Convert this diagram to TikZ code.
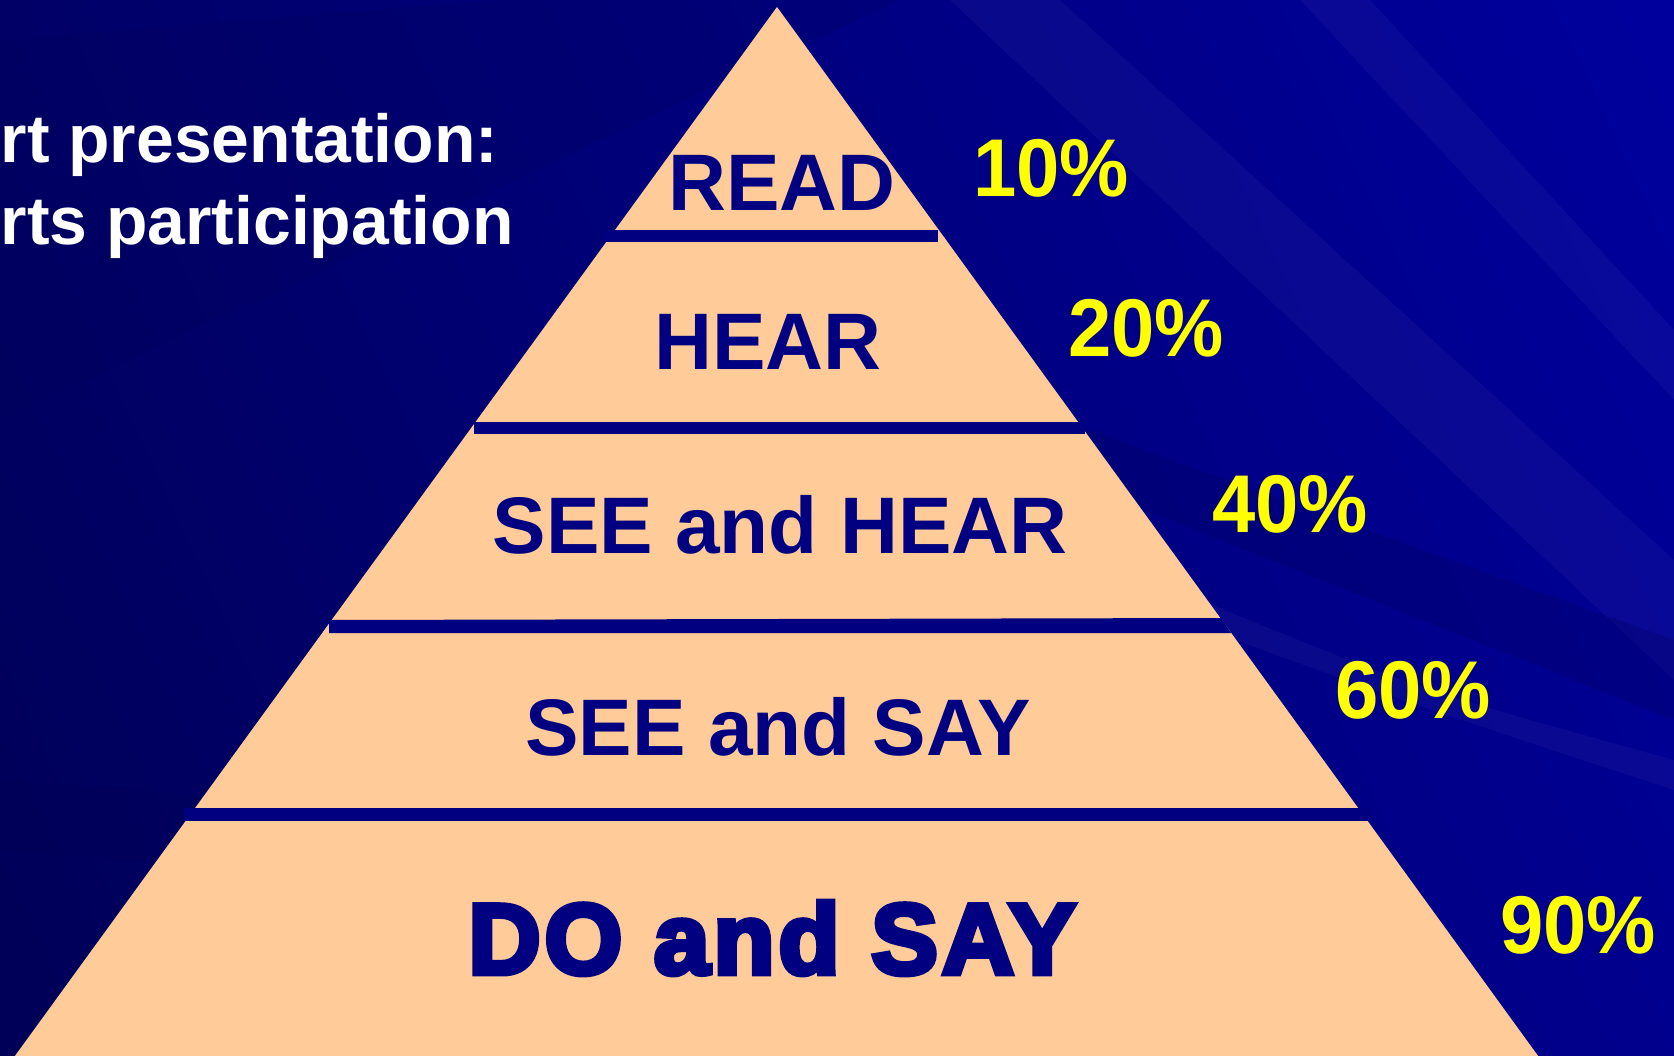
\documentclass[tikz,border=0pt]{standalone}
\usepackage{fontspec}
\setmainfont{Liberation Sans}
\font\heavyfont="Liberation Sans Bold:embolden=5.5;letterspace=4" at 28.4pt
\usepackage{xcolor}
\definecolor{bgdark}{HTML}{000058}
\definecolor{bglight}{HTML}{00009C}
\definecolor{peachc}{HTML}{FFCC99}
\definecolor{inkc}{HTML}{000080}
\definecolor{pctc}{HTML}{FFFF00}
\tikzset{
  layer/.style={font=\bfseries\fontsize{22.8}{22.8}\selectfont, text=inkc},
  toplayer/.style={font=\heavyfont, text=inkc},
  pct/.style={font=\bfseries\fontsize{23.3}{23.3}\selectfont, text=pctc, xscale=0.95},
  note/.style={font=\bfseries\fontsize{19.3}{19.3}\selectfont, text=white, anchor=base west, inner sep=0pt},
  bar/.style={fill=inkc},
  streak/.style={fill=white, fill opacity=0.035},
}

\begin{document}
\begin{tikzpicture}[x=0.01cm, y=-0.01cm]
\useasboundingbox (0,0) rectangle (1674,1055);
\begin{scope}
\clip (0,0) rectangle (1674,1055);
% backdrop
\shade[left color=bgdark, right color=bglight, shading angle=115] (-200,-200) rectangle (1874,1255);
\fill[bgdark, opacity=0.35] (0,780) .. controls (150,790) and (300,800) .. (420,830) -- (420,900) .. controls (300,870) and (150,860) .. (0,850) -- cycle;
\fill[streak] (950,0) -- (1060,0) -- (1674,560) -- (1674,680) -- cycle;
\fill[streak] (1300,0) -- (1370,0) -- (1674,330) -- (1674,400) -- cycle;
\fill[streak] (1180,620) .. controls (1400,700) .. (1674,790) -- (1674,760) .. controls (1420,690) .. (1200,600) -- cycle;
\fill[bgdark, opacity=0.25] (1060,420) -- (1674,640) -- (1674,720) -- (1120,500) -- cycle;
\fill[bgdark, opacity=0.2] (0,40) -- (500,0) -- (900,0) -- (0,420) -- cycle;
\end{scope}

% pyramid
\fill[peachc] (777,7) -- (1541,1060) -- (12,1060) -- cycle;
\fill[bar] (605,230) rectangle (938,242);
\fill[bar] (474,422) rectangle (1085,434);
\fill[bar] (329,620) -- (1221,618) -- (1231,633) -- (329,633) -- cycle;
\fill[bar] (184,808) rectangle (1372,821);

\node[layer] (read) at (782,183) {READ};
\node[layer] (hear) at (768,342) {HEAR};
\node[layer] (seehear) at (780,525) {SEE and HEAR};
\node[layer] (seesay) at (778,727) {SEE and SAY};
\node[toplayer] (dosay) at (772,938) {DO and SAY};

\node[pct] (p10) at (1051,168) {10\%};
\node[pct] (p20) at (1146,328) {20\%};
\node[pct] (p40) at (1290,504) {40\%};
\node[pct] (p60) at (1413,690) {60\%};
\node[pct] (p90) at (1578,925) {90\%};

\node[note] (line1) at (0,163) {rt presentation:};
\node[note] (line2) at (0,245) {rts participation};
\end{tikzpicture}
\end{document}
